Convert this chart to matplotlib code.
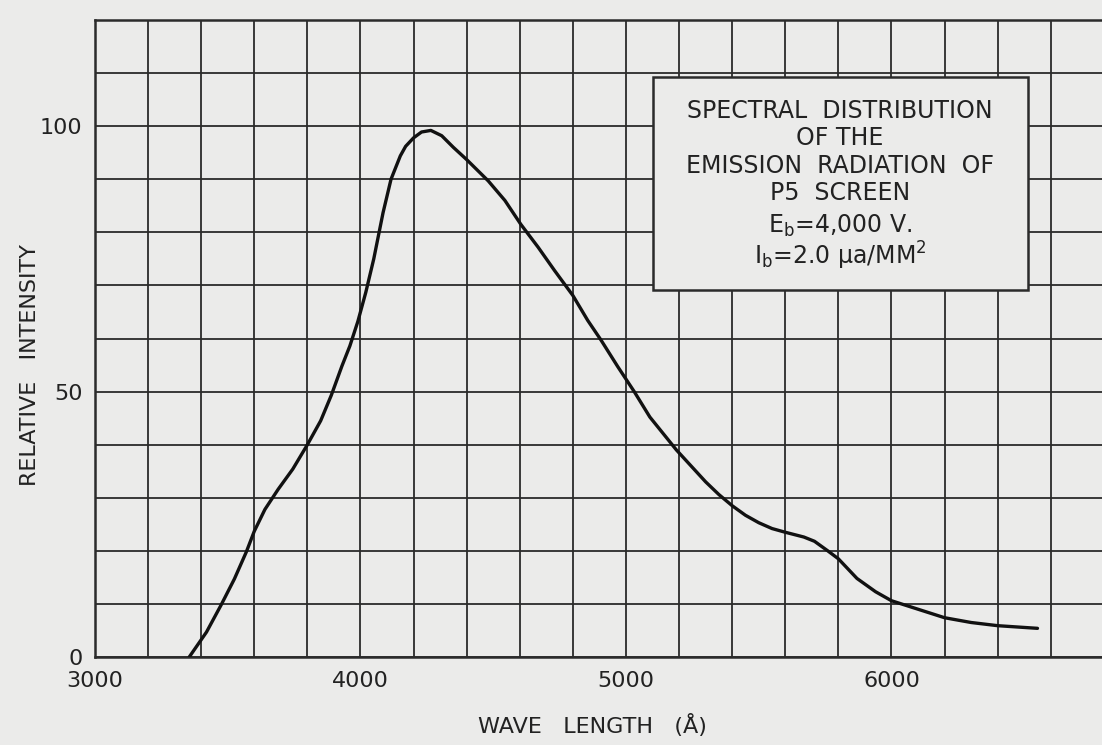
import matplotlib
matplotlib.use('Agg')
import matplotlib.pyplot as plt
from matplotlib.patches import Rectangle
from matplotlib.ticker import MultipleLocator, FuncFormatter

# wave length (angstrom) and relative intensity
wave = [3355, 3420, 3475, 3525, 3570, 3600, 3640, 3690, 3745, 3800, 3850, 3890,
        3930, 3960, 3990, 4020, 4050, 4085, 4115, 4150, 4170, 4200, 4230, 4265,
        4306, 4350, 4400, 4481, 4544, 4604, 4669, 4731, 4800, 4856, 4906, 4969,
        5031, 5090, 5190, 5300, 5350, 5400, 5450, 5500, 5550, 5600, 5670, 5710,
        5760, 5800, 5870, 5940, 6000, 6100, 6200, 6300, 6400, 6550]
intensity = [0, 4.7, 9.8, 14.7, 19.8, 23.7, 27.8, 31.6, 35.4, 40.0, 44.5, 49.3,
             54.8, 58.6, 63.2, 68.7, 75.0, 83.7, 90.0, 94.4, 96.2, 97.8, 98.9, 99.2,
             98.2, 96.0, 93.7, 89.7, 86.0, 81.5, 77.2, 72.8, 68.1, 63.4, 59.7, 54.7,
             50.0, 45.2, 39.0, 33.0, 30.6, 28.5, 26.7, 25.3, 24.2, 23.5, 22.6, 21.8,
             20.0, 18.5, 14.8, 12.3, 10.6, 9.0, 7.4, 6.5, 5.9, 5.4]

x_labels = [3000, 4000, 5000, 6000]
y_labels = [0, 50, 100]

note = ["SPECTRAL  DISTRIBUTION",
        "OF THE",
        "EMISSION  RADIATION  OF",
        "P5  SCREEN",
        r"E$_\mathrm{b}$=4,000 V.",
        r"I$_\mathrm{b}$=2.0 μa/MM$^2$"]

paper = '#ebebea'
ink = '#2b2b2b'

fig = plt.figure(figsize=(11.02, 7.45), dpi=100, facecolor=paper)
ax = fig.add_axes([95 / 1102, 1 - 657 / 745, 1007 / 1102, 637 / 745])
ax.set_facecolor(paper)

ax.plot(wave, intensity, color='#111111', lw=2.4, solid_capstyle='round',
        solid_joinstyle='round', zorder=3)

ax.set_xlim(3000, 6793)
ax.set_ylim(0, 120)
ax.xaxis.set_major_locator(MultipleLocator(200))
ax.yaxis.set_major_locator(MultipleLocator(10))
ax.grid(True, color=ink, lw=1.3)
ax.set_axisbelow(True)
ax.tick_params(length=0, labelsize=16, colors='#222222')
ax.tick_params(axis='x', pad=10)
ax.tick_params(axis='y', pad=9)
ax.xaxis.set_major_formatter(FuncFormatter(lambda v, p: '%d' % v if int(round(v)) in x_labels else ''))
ax.yaxis.set_major_formatter(FuncFormatter(lambda v, p: '%d' % v if int(round(v)) in y_labels else ''))
for s in ['left', 'bottom', 'top']:
    ax.spines[s].set_color(ink)
    ax.spines[s].set_linewidth(1.8)
ax.spines['right'].set_visible(False)

fig.text(592 / 1102, 1 - 726 / 745, 'WAVE   LENGTH   (Å)', ha='center', va='center',
         fontsize=16, color='#222222')
fig.text(30 / 1102, 1 - 365 / 745, 'RELATIVE   INTENSITY', ha='center', va='center',
         rotation=90, fontsize=16, color='#222222')

# note box drawn over the grid
box = Rectangle((653 / 1102, 1 - 290 / 745), (1028 - 653) / 1102, (290 - 77) / 745,
                transform=fig.transFigure, facecolor=paper, edgecolor=ink, lw=1.8, zorder=5)
ax.add_patch(box)
box.set_clip_on(False)
line_y = [111, 138, 166, 193, 226, 256]
for txt, py in zip(note, line_y):
    fig.text(840 / 1102, 1 - py / 745, txt, ha='center', va='center', fontsize=17,
             color='#222222', zorder=6)

fig.savefig('out.png', dpi=100, facecolor=paper)
